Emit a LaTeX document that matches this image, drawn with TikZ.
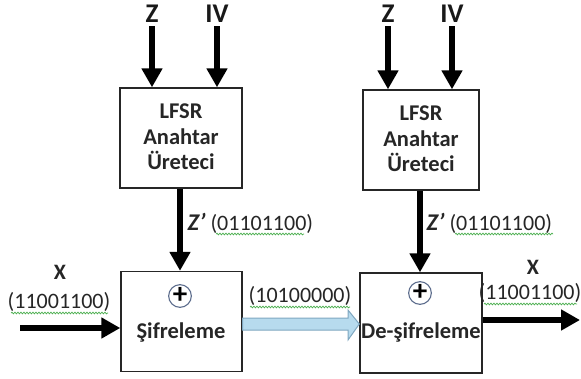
\documentclass[tikz,border=0pt]{standalone}
\usepackage{fontspec}
\setmainfont{Carlito}
\usetikzlibrary{arrows.meta,decorations.pathmorphing}
\definecolor{arrblue}{HTML}{B7DBEE}
\definecolor{arredge}{HTML}{7FA7C0}
\definecolor{circedge}{HTML}{5E6E8E}
\definecolor{squig}{HTML}{4CAF50}
\tikzset{
  box/.style={draw=black!85, line width=1.4pt, minimum width=#1, minimum height=100pt, inner sep=0pt},
  boxtext/.style={font=\bfseries\fontsize{22.5}{25.5}\selectfont, align=center, text=black!85},
  bigin/.style={font=\bfseries\fontsize{27}{30}\selectfont, text=black!90},
  lbl/.style={font=\fontsize{22}{24}\selectfont, text=black!85},
  xlbl/.style={font=\bfseries\fontsize{22}{24}\selectfont, text=black!85},
  fat/.style={line width=5.5pt, -{Triangle[width=20pt,length=19pt]}},
  xorc/.style={circle, draw=circedge, line width=1.1pt, minimum size=22pt, inner sep=0pt, font=\bfseries\fontsize{29}{29}\selectfont},
  sq/.style={draw=squig, line width=0.7pt, decorate, decoration={snake, amplitude=0.9pt, segment length=3pt}}
}
\begin{document}
\begin{tikzpicture}[x=1pt,y=-1pt]
\useasboundingbox (0,0) rectangle (581,378);
% boxes
\node[box=122pt] (lfsrA) at (181,138) {};
\node[boxtext] (lfsrAt) at (181,137) {LFSR\\Anahtar\\Üreteci};
\node[box=116pt] (lfsrB) at (421,140) {};
\node[boxtext] (lfsrBt) at (421,139) {LFSR\\Anahtar\\Üreteci};
\node[box=121pt] (enc) at (181.5,321.5) {};
\node[box=122pt] (dec) at (421,323) {};
\node[xorc] (xA) at (180,296) {\raisebox{1.5pt}{+}};
\node[xorc] (xB) at (420,293) {\raisebox{1.5pt}{+}};
\node[boxtext] (encT) at (181,332) {Şifreleme};
\node[boxtext] (decT) at (421,332) {De-şifreleme};
% inputs
\node[bigin] (zA) at (152,14) {Z};
\node[bigin] (ivA) at (217,14) {IV};
\node[bigin] (zB) at (388,14) {Z};
\node[bigin] (ivB) at (452,14) {IV};
\draw[fat] (zA.south) -- (zA.south |- lfsrA.north);
\draw[fat] (ivA.south) -- (ivA.south |- lfsrA.north);
\draw[fat] (zB.south) -- (zB.south |- lfsrB.north);
\draw[fat] (ivB.south) -- (ivB.south |- lfsrB.north);
% key streams
\draw[fat] (xA |- lfsrA.south) -- (xA |- enc.north);
\draw[fat] (xB |- lfsrB.south) -- (xB |- dec.north);
\node[lbl, anchor=west] (kA) at (184,223) {\textbf{\textit{\fontsize{24}{24}\selectfont Z’}} (01101100)};
\node[lbl, anchor=west] (kB) at (423,223) {\textbf{\textit{\fontsize{24}{24}\selectfont Z’}} (01101100)};
% plaintext in
\coordinate (inA) at (20,328);
\draw[fat] (inA) -- (inA -| enc.west);
\node[xlbl] (xinA) at (60,272) {X};
\node[lbl] (pA) at (59,302) {(11001100)};
% cipher transfer
\draw[arredge, fill=arrblue, line width=1pt]
  (enc.east |- 0,318) -- (348,318) -- (348,310) -- (dec.west |- 0,324) -- (348,340) -- (348,330) -- (enc.east |- 0,330) -- cycle;
\node[lbl] (cT) at (300,296) {(10100000)};
% output
\coordinate (outB) at (580,320);
\draw[fat] (dec.east |- outB) -- (outB);
\node[xlbl] (xoutB) at (533,267) {X};
\node[lbl] (pB) at (530,293) {(11001100)};
% spell-check squiggles
\draw[sq] (11,313) -- (108,313);
\draw[sq] (250,307) -- (350,307);
\draw[sq] (484,304) -- (577,304);
\draw[sq] (216,234) -- (304,234);
\draw[sq] (455,234) -- (553,234);
\end{tikzpicture}
\end{document}
